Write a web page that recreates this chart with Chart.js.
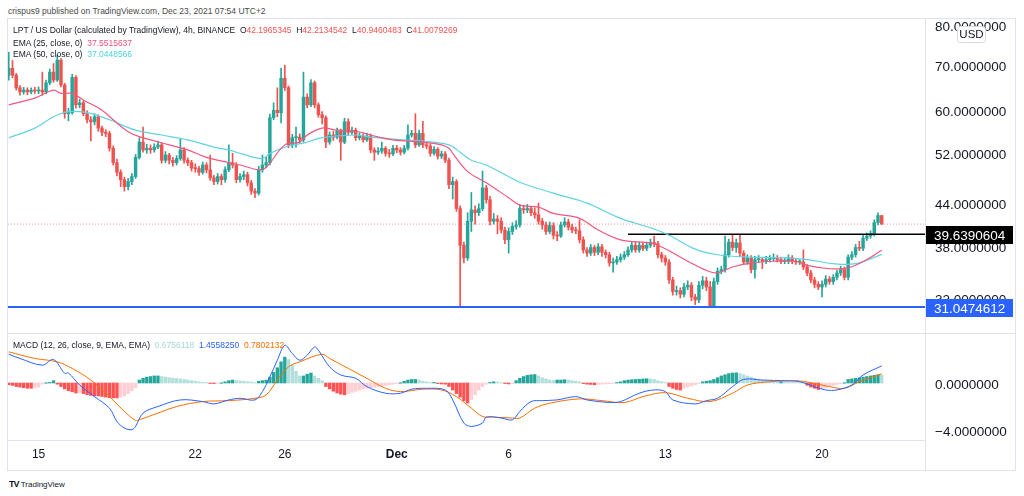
<!DOCTYPE html>
<html>
<head>
<meta charset="utf-8">
<script src="https://cdn.jsdelivr.net/npm/chart.js@4.4.1/dist/chart.umd.min.js"></script>
<style>
  body { margin: 0; width: 1024px; height: 496px; background: #fff; overflow: hidden; position: relative;
         font-family: "Liberation Sans", Arial, sans-serif; color: #131722; }
  .t { position: absolute; white-space: nowrap; font-size: 8.5px; line-height: 10px; }
  .ln { position: absolute; background: #e0e3eb; }
  canvas { position: absolute; }
</style>
</head>
<body>
<div class="t" style="left:8px;top:6px;color:#4a4a4a">crispus9 published on TradingView.com, Dec 23, 2021 07:54 UTC+2</div>

<div class="ln" style="left:7px;top:18px;width:1009px;height:1px"></div>
<div class="ln" style="left:7px;top:470px;width:1009px;height:1px"></div>
<div class="ln" style="left:7px;top:18px;width:1px;height:453px"></div>
<div class="ln" style="left:1015px;top:18px;width:1px;height:453px"></div>

<canvas id="price" width="1007" height="314" style="left:8px;top:19px"></canvas>
<canvas id="macd" width="1007" height="136" style="left:8px;top:334px"></canvas>

<div class="ln" style="left:8px;top:333px;width:1007px;height:1px"></div>
<div class="ln" style="left:925px;top:19px;width:1px;height:451px"></div>

<div class="t" style="left:13px;top:25px">LPT / US Dollar (calculated by TradingView), 4h, BINANCE&nbsp; O<span style="color:#ef5350">42.1965345</span>&nbsp; H<span style="color:#ef5350">42.2134542</span>&nbsp; L<span style="color:#ef5350">40.9460483</span>&nbsp; C<span style="color:#ef5350">41.0079269</span></div>
<div class="t" style="left:13px;top:38px">EMA (25, close, 0)&nbsp; <span style="color:#f2527a">37.5515637</span></div>
<div class="t" style="left:13px;top:49px">EMA (50, close, 0)&nbsp; <span style="color:#4dd0e1">37.0448566</span></div>
<div class="t" style="left:13px;top:340px">MACD (12, 26, close, 9, EMA, EMA)&nbsp; <span style="color:#a5d8d3">0.6756118</span>&nbsp; <span style="color:#2962ff">1.4558250</span>&nbsp; <span style="color:#ff6d00">0.7802132</span></div>
<div class="t" style="left:9px;top:479px;font-size:8px"><b style="font-size:9px;letter-spacing:-1px">TV</b>&nbsp;TradingView</div>

<script>
// 4h candles, index 0 = Nov 13 16:00 ... 234 = Dec 22 16:00
const firstOpen = 67.6;
const close = [
  69.2,67.6,64.8,63.9,64.3,63.9,64.3,64.1,64.3,63.9,
  65.9,68.3,66.5,71.1,65.4,59.4,59.6,67.1,61.2,61.6,
  59.4,58.2,57.8,58.8,56.6,55.8,55.6,52.9,50.4,48.8,
  47.6,46.5,47.3,48.1,51.3,54.0,52.6,52.9,52.6,53.1,
  53.5,50.8,51.7,50.8,50.4,51.1,52.6,50.8,50.4,49.5,
  49.4,48.8,50.0,49.2,47.9,47.3,48.1,47.6,49.2,50.4,
  50.0,47.6,48.1,48.4,47.1,45.8,45.5,49.2,50.0,50.4,
  58.6,60.1,59.6,66.9,64.8,53.5,54.8,54.9,54.4,62.8,
  61.2,65.9,61.2,59.2,58.6,54.0,55.3,54.9,56.0,54.0,
  57.8,55.8,56.2,54.8,55.1,54.4,55.1,52.6,52.2,52.4,
  52.9,52.0,51.9,52.9,52.6,52.2,52.9,55.3,55.6,53.5,
  55.6,53.5,53.3,52.0,52.7,51.5,51.9,50.8,46.8,47.3,
  43.2,38.2,36.6,41.4,43.0,42.6,43.2,46.3,44.5,41.4,
  41.7,41.4,40.2,38.9,40.0,40.7,40.9,43.2,43.0,43.2,
  42.6,42.3,41.4,40.9,40.0,40.8,39.5,39.4,40.9,41.3,
  40.6,40.2,40.1,38.9,37.6,37.2,37.9,37.3,38.0,37.3,
  37.0,36.0,36.1,36.4,36.7,37.0,37.6,38.2,37.6,38.2,
  37.8,38.2,38.5,38.4,37.0,36.6,36.1,34.0,32.7,32.8,
  32.4,33.2,33.4,32.1,31.8,33.4,33.9,33.2,31.0,33.8,
  35.0,35.2,37.0,38.6,37.9,38.5,37.2,36.1,36.6,35.2,
  36.4,36.4,36.2,36.4,36.5,36.6,36.4,36.2,36.2,36.6,
  36.2,36.1,36.1,35.5,34.8,34.0,33.5,33.2,33.5,34.1,
  33.8,34.3,34.8,35.2,34.3,36.7,37.0,37.9,37.8,39.1,
  39.4,39.7,41.2,42.1965,41.0079
];
const high = [
  73.0,71.0,68.0,65.3,64.9,64.8,64.8,64.9,65.0,68.3,
  66.5,69.0,70.3,72.3,71.5,65.8,60.5,67.8,67.5,62.4,
  62.0,60.0,58.8,59.4,59.2,57.0,56.3,56.0,53.3,51.0,
  49.2,48.0,47.8,48.6,51.8,54.8,56.8,53.6,53.5,53.7,
  54.2,53.9,52.3,52.0,51.3,51.6,54.6,53.0,51.2,50.8,
  50.2,49.8,50.5,50.4,51.7,48.3,48.6,48.5,49.7,53.5,
  52.0,50.4,48.6,49.0,48.8,47.5,46.2,49.8,51.7,51.3,
  59.3,61.6,64.8,69.2,69.9,65.2,55.4,56.8,55.5,68.3,
  63.5,66.6,66.3,61.6,59.8,59.0,55.9,56.0,56.6,56.4,
  58.5,58.4,56.8,56.6,55.7,55.5,55.6,55.5,53.0,53.0,
  54.0,53.2,52.7,53.4,53.4,53.0,53.4,57.2,56.2,59.4,
  56.2,57.9,54.0,53.7,53.2,53.0,52.4,52.3,51.2,48.0,
  47.6,43.6,38.6,42.6,45.6,43.6,43.9,49.0,46.7,45.0,
  42.5,42.2,41.9,40.6,40.5,41.2,41.5,43.8,43.7,43.8,
  43.5,43.3,44.0,41.8,41.3,41.3,41.2,40.0,41.3,41.9,
  41.7,41.0,40.6,41.6,39.3,37.9,38.3,38.2,38.4,38.3,
  37.6,37.3,36.6,36.8,37.1,37.4,38.0,38.7,38.6,38.6,
  38.5,38.6,39.0,39.4,38.7,37.3,36.9,36.4,34.3,33.3,
  33.1,33.6,33.9,33.7,32.4,33.8,34.4,34.3,33.8,34.2,
  35.4,35.6,39.4,39.0,39.5,39.0,39.5,37.5,37.0,36.9,
  36.8,36.9,36.7,36.8,36.9,37.1,36.9,36.7,36.6,37.0,
  36.9,36.5,36.4,37.6,35.8,35.1,34.3,33.8,33.9,34.5,
  34.4,34.6,35.1,35.6,35.5,37.0,37.4,38.3,38.7,39.5,
  39.8,40.1,41.6,42.6,42.2135
];
const low = [
  66.5,67.0,64.3,63.2,63.4,63.3,63.5,63.6,63.5,63.2,
  63.5,65.5,66.0,66.2,65.0,58.5,58.0,59.3,60.5,60.6,
  59.0,57.6,54.2,57.2,56.0,55.2,55.0,52.4,50.0,48.2,
  46.5,45.8,46.0,46.8,47.8,51.0,52.2,52.0,52.0,52.2,
  52.8,50.3,50.4,50.2,49.8,50.0,50.8,50.3,49.9,49.0,
  48.8,48.3,48.5,48.7,47.5,46.8,46.9,46.8,47.2,48.9,
  49.5,47.1,47.2,47.6,46.6,45.3,44.8,45.2,48.8,49.5,
  50.0,58.2,58.8,57.6,64.2,53.0,53.0,53.1,53.8,54.0,
  60.6,60.8,60.6,58.7,57.4,53.0,53.6,54.3,54.6,50.8,
  53.7,55.3,55.4,54.3,54.4,54.0,54.1,52.1,50.8,51.8,
  52.0,51.5,51.3,51.6,52.1,51.7,51.9,52.6,54.9,53.0,
  53.2,53.0,52.8,51.5,51.7,51.0,51.1,50.4,46.2,44.6,
  42.8,31.0,36.0,36.3,40.0,41.0,42.2,42.9,44.0,40.9,
  41.0,39.7,39.8,38.4,37.2,39.6,40.3,40.6,42.5,42.6,
  42.2,41.8,41.0,40.3,39.6,39.7,39.0,38.8,39.2,40.6,
  40.2,39.8,39.7,38.5,37.2,36.8,36.9,36.9,37.0,36.8,
  36.6,35.6,34.9,35.8,36.1,36.4,36.8,37.3,37.3,37.3,
  37.5,37.5,37.9,38.0,36.6,36.1,35.7,33.6,32.3,32.3,
  32.0,32.1,32.9,31.7,31.3,31.5,33.0,32.8,31.0,31.0,
  33.5,34.7,34.9,36.7,37.5,37.3,36.8,35.8,35.8,34.8,
  34.2,36.0,35.3,35.9,36.1,36.2,36.1,35.9,35.9,35.9,
  35.9,35.8,35.8,35.2,34.5,33.7,33.1,32.9,32.1,33.2,
  33.5,33.5,34.0,34.5,34.0,34.0,36.4,36.7,37.5,37.5,
  38.8,39.1,39.4,40.9,40.946
];

// EMA lines (candle index, price)
const ema25X = [0,7,12,14,17,20,25,28,32,35,43,48,53,59,62,67,69,74,78,80,84,88,93,97,103,111,116,118,119,123,128,134,137,142,146,153,158,164,172,174,177,182,187,190,194,199,205,211,214,220,225,230,234];
const ema25Y = [61.2,62.6,64.3,63.6,63.6,62.2,60.1,58.2,55.9,55.0,53.5,52.6,51.3,50.4,50.0,49.2,49.6,53.5,54.0,55.3,56.6,56.2,56.0,55.3,54.4,54.0,53.5,52.9,52.0,48.9,47.1,44.8,43.7,43.4,42.5,41.8,40.2,38.9,38.5,38.2,37.5,36.2,35.1,34.8,35.5,36.0,36.2,36.2,35.7,35.3,35.4,36.4,37.55];
const ema50X = [0,7,12,16,21,27,34,41,48,55,59,62,68,70,75,79,84,93,97,106,111,118,121,124,128,137,146,155,164,172,177,184,190,199,208,214,221,227,234];
const ema50Y = [54.8,56.6,58.8,59.8,59.6,58.2,56.2,55.3,54.4,53.1,52.6,52.0,51.1,52.0,53.3,53.8,54.8,55.3,54.9,54.4,54.2,53.5,52.2,50.8,50.0,47.2,45.5,44.0,41.8,40.5,39.5,37.7,37.0,36.7,36.6,36.4,35.9,35.9,37.04];

const lastPrice = 41.0079269;
const resistance = 39.6390604;
const resistanceFrom = 166;
const support = 31.0474612;

// MACD pane
const hist = [
  -0.15,-0.2,-0.3,-0.35,-0.4,-0.45,-0.45,-0.42,-0.35,
  -0.1,0.0,0.05,
  0.2,
  -0.1,-0.3,-0.5,-0.65,-0.75,-0.85,
  -0.8,-0.9,-1.0,-1.05,-1.1,-1.1,-1.15,
  -1.2,-1.25,-1.27,-1.27,-1.2,-1.1,
  -0.9,-0.65,-0.4,
  0.25,0.4,0.5,0.55,0.6,0.6,
  0.55,0.5,0.45,0.42,0.38,0.35,0.3,0.25,0.2,0.15,0.1,
  0.05,0.02,-0.03,-0.05,-0.03,0.0,
  0.1,0.2,0.25,
  0.2,0.18,0.15,0.12,0.08,0.05,
  0.15,0.2,0.25,
  0.5,0.9,1.3,1.8,2.2,
  2.0,1.5,1.0,0.6,
  0.6,0.75,0.85,
  0.6,0.4,0.2,
  -0.3,-0.5,-0.7,-0.85,-0.95,-1.0,
  -0.9,-0.8,-0.7,-0.6,-0.5,-0.45,
  -0.4,-0.35,-0.3,-0.25,-0.2,-0.15,-0.1,-0.05,0.0,
  0.15,0.25,0.3,0.3,0.25,
  0.15,0.1,0.05,0.05,
  -0.05,-0.08,-0.1,
  -0.3,-0.6,-0.9,-1.2,-1.5,-1.7,
  -1.4,-1.0,-0.6,
  -0.3,-0.1,0.05,0.1,0.08,0.03,-0.05,-0.08,-0.05,
  0.2,0.4,0.55,0.65,0.7,0.72,0.6,
  0.45,0.35,0.25,0.2,
  0.25,0.25,0.28,0.25,
  0.2,0.15,0.1,
  -0.05,-0.1,-0.12,-0.15,-0.12,-0.1,-0.08,-0.05,-0.02,0.03,0.1,
  0.2,0.25,0.28,0.3,0.32,0.35,0.36,0.35,0.3,
  0.2,0.12,0.05,
  -0.3,-0.45,-0.55,-0.6,
  -0.45,-0.35,-0.25,-0.15,-0.05,
  0.1,0.15,0.2,0.3,
  0.45,0.6,0.7,0.8,0.85,0.87,0.8,
  0.7,0.6,0.5,0.4,0.3,0.25,0.2,
  0.15,0.12,0.1,0.1,0.08,0.06,0.05,0.03,0.02,0.0,
  -0.2,-0.35,-0.45,-0.55,-0.5,
  -0.4,-0.3,-0.2,-0.12,-0.05,0.0,
  0.3,0.35,0.4,0.45,0.5,0.55,0.6,0.65,0.7,0.6756
];
const macdX = [0,3,9,12,15,16,19,23,27,29,31,33,34,36,40,46,52,55,59,62,66,68,70,72,74,76,78,80,82,83,86,89,93,96,101,105,108,112,117,119,122,124,127,128,132,135,137,140,143,147,152,155,161,164,169,173,176,178,184,187,190,194,197,202,208,212,216,219,222,226,229,234];
const macdY = [2.45,2.09,1.52,2.0,0.82,0.85,-0.17,-1.16,-2.14,-3.27,-3.83,-3.97,-3.69,-2.56,-2.0,-1.44,-1.58,-1.78,-1.44,-1.30,-1.44,-0.73,0.53,1.94,3.21,2.51,1.94,2.37,3.07,2.79,1.38,0.68,0.40,-0.31,-0.87,-0.87,-0.53,-0.45,-0.59,-1.44,-3.41,-3.69,-3.41,-2.90,-2.98,-3.13,-2.42,-1.58,-1.50,-1.44,-1.16,-1.44,-1.66,-1.58,-0.87,-0.59,-0.73,-1.44,-1.78,-1.50,-1.30,-0.31,0.31,0.25,0.19,0.11,-0.31,-0.59,-0.59,-0.17,0.68,1.4558];
const signalX = [0,7,13,17,22,27,31,34,35,40,45,52,59,66,69,72,75,78,84,86,91,96,101,105,111,116,120,124,127,130,135,137,141,145,153,159,165,170,176,182,188,194,198,204,211,215,220,224,228,234];
const signalY = [2.65,2.09,1.80,1.24,0.25,-1.16,-2.42,-3.19,-3.13,-2.56,-2.0,-1.58,-1.50,-1.30,-1.01,0.25,1.38,1.80,2.45,2.09,1.24,0.40,-0.45,-0.73,-0.53,-0.59,-1.16,-2.14,-2.85,-2.90,-2.98,-2.98,-2.14,-1.72,-1.35,-1.50,-1.66,-1.16,-0.82,-1.30,-1.58,-0.87,-0.17,0.11,0.19,0.03,-0.31,-0.45,0.11,0.7802];

const priceTicks = [32, 38, 44, 52, 60, 70, 80];
const macdTicks = [0, -4];
const dateTickIdx = [8, 50, 74, 104, 134, 176, 218];
const dateTickText = ['15', '22', '26', 'Dec', '6', '13', '20'];

const xMin = -0.2, xMax = 245.6;
const up = '#26a69a', down = '#ef5350';
const fontFamily = '"Liberation Sans", Arial, sans-serif';

const open = [firstOpen].concat(close.slice(0, -1));
const candleColor = close.map((c, i) => c >= open[i] ? up : down);
const histColor = hist.map((v, i) => {
  const prev = i ? hist[i - 1] : 0;
  if (v >= 0) return v >= prev ? '#26a69a' : '#b2dfdb';
  return v <= prev ? '#ff5252' : '#ffcdd2';
});
const pts = (xs, ys) => xs.map((x, i) => ({x: x, y: ys[i]}));

function rightAxis(scale) {
  scale.width = 90;
  scale.paddingTop = 0;
  scale.paddingBottom = 0;
}

const priceLabels = {
  id: 'priceLabels',
  afterDraw(chart) {
    const ctx = chart.ctx;
    const y = chart.scales.y;
    const left = chart.chartArea.right;
    ctx.save();
    ctx.font = '13.5px ' + fontFamily;
    ctx.textBaseline = 'middle';
    [[resistance, '#000000'], [support, '#2962ff']].forEach(function (p) {
      const py = Math.round(y.getPixelForValue(p[0])) + 1;
      ctx.fillStyle = p[1];
      ctx.fillRect(left, py - 9, 88, 18);
      ctx.fillStyle = '#ffffff';
      ctx.fillText(p[0].toFixed(7), left + 9, py + 1);
    });
    // currency badge
    ctx.fillStyle = '#ffffff';
    ctx.strokeStyle = '#d6d9e0';
    ctx.lineWidth = 1;
    ctx.beginPath();
    ctx.roundRect(left + 32.5, 7.5, 28, 16, 3);
    ctx.fill();
    ctx.stroke();
    ctx.fillStyle = '#131722';
    ctx.font = '11.5px ' + fontFamily;
    ctx.textAlign = 'center';
    ctx.fillText('USD', left + 46.5, 16);
    ctx.restore();
  }
};

new Chart(document.getElementById('price'), {
  type: 'bar',
  data: {
    datasets: [
      {type: 'line', data: pts(ema25X, ema25Y), borderColor: '#f2577f', borderWidth: 1.2, pointRadius: 0, tension: 0.35, order: 0},
      {type: 'line', data: pts(ema50X, ema50Y), borderColor: '#5fd3e3', borderWidth: 1.2, pointRadius: 0, tension: 0.35, order: 1},
      {type: 'line', data: [{x: resistanceFrom, y: resistance}, {x: xMax, y: resistance}], borderColor: '#000000', borderWidth: 1.5, pointRadius: 0, order: 2},
      {type: 'line', data: [{x: xMin, y: support}, {x: xMax, y: support}], borderColor: '#2962ff', borderWidth: 2, pointRadius: 0, order: 3},
      {type: 'line', data: [{x: xMin, y: lastPrice}, {x: xMax, y: lastPrice}], borderColor: 'rgba(239,83,80,0.6)', borderWidth: 1, borderDash: [1, 2], pointRadius: 0, order: 6},
      {data: close.map((c, i) => ({x: i, y: [open[i], c]})), backgroundColor: candleColor, barThickness: 2.8, minBarLength: 1, grouped: false, order: 4},
      {data: close.map((c, i) => ({x: i, y: [low[i], high[i]]})), backgroundColor: candleColor, barThickness: 1, grouped: false, order: 5}
    ]
  },
  options: {
    responsive: false,
    animation: false,
    events: [],
    layout: {padding: 0},
    plugins: {legend: {display: false}, tooltip: {enabled: false}},
    scales: {
      x: {type: 'linear', min: xMin, max: xMax, offset: false, display: false},
      y: {
        type: 'logarithmic', position: 'right', min: 28.45, max: 81.63, bounds: 'data',
        grid: {display: false, drawTicks: false},
        border: {display: false},
        afterBuildTicks: s => { s.ticks = priceTicks.map(v => ({value: v})); },
        afterFit: rightAxis,
        ticks: {autoSkip: false, padding: 10, labelOffset: 2, color: '#131722', font: {family: fontFamily, size: 13.5},
                callback: v => Number(v).toFixed(7)}
      }
    }
  },
  plugins: [priceLabels]
});

new Chart(document.getElementById('macd'), {
  type: 'bar',
  data: {
    datasets: [
      {type: 'line', data: pts(macdX, macdY), borderColor: '#2962ff', borderWidth: 1, pointRadius: 0, tension: 0.35, order: 0},
      {type: 'line', data: pts(signalX, signalY), borderColor: '#ff6d00', borderWidth: 1, pointRadius: 0, tension: 0.35, order: 1},
      {data: hist.map((v, i) => ({x: i, y: v})), backgroundColor: histColor, barThickness: 2.7, minBarLength: 0.5, order: 2}
    ]
  },
  options: {
    responsive: false,
    animation: false,
    events: [],
    layout: {padding: 0},
    plugins: {legend: {display: false}, tooltip: {enabled: false}},
    scales: {
      x: {
        type: 'linear', min: xMin, max: xMax, offset: false,
        grid: {display: false, drawTicks: false},
        border: {display: true, color: '#e0e3eb'},
        afterBuildTicks: s => { s.ticks = dateTickIdx.map(v => ({value: v})); },
        afterFit: s => { s.height = 30; s.paddingLeft = 0; s.paddingRight = 0; },
        ticks: {
          autoSkip: false, maxRotation: 0, padding: 7, color: '#131722',
          font: c => ({family: fontFamily, size: 12, weight: c.tick && c.tick.value === 104 ? 'bold' : 'normal'}),
          callback: v => dateTickText[dateTickIdx.indexOf(v)]
        }
      },
      y: {
        type: 'linear', position: 'right', min: -4.85, max: 4.17,
        grid: {display: false, drawTicks: false},
        border: {display: false},
        afterBuildTicks: s => { s.ticks = macdTicks.map(v => ({value: v})); },
        afterFit: rightAxis,
        ticks: {autoSkip: false, padding: 10, labelOffset: 2, color: '#131722', font: {family: fontFamily, size: 13.5},
                callback: v => (v < 0 ? '\u2212' : '') + Math.abs(v).toFixed(7)}
      }
    }
  }
});
</script>
</body>
</html>
